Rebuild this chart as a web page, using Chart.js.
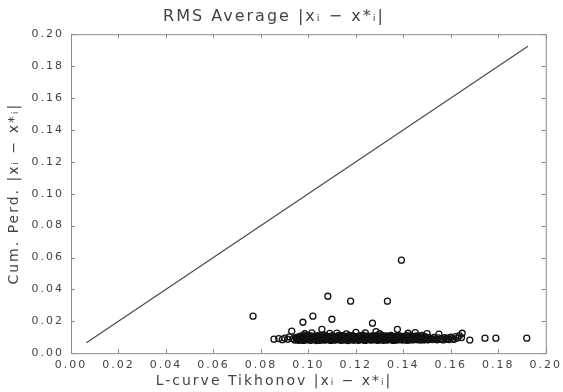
<!DOCTYPE html>
<html>
<head>
<meta charset="utf-8">
<script src="https://cdn.jsdelivr.net/npm/chart.js@4.4.1/dist/chart.umd.min.js"></script>
<style>
  html, body { margin: 0; padding: 0; background: #fff; }
  #wrap { width: 563px; height: 392px; }
</style>
</head>
<body>
<div id="wrap"><canvas id="chart"></canvas></div>
<script>
// axis ticks (both axes share the same range)
const tickValues = [0.00, 0.02, 0.04, 0.06, 0.08, 0.10, 0.12, 0.14, 0.16, 0.18, 0.20];

// y = x reference line, end points
const diagonal = [[0.0065, 0.0065], [0.1925, 0.1925]];

// isolated points away from the main band
const outliers = [
    [0.0767, 0.0232], [0.0855, 0.0088], [0.0930, 0.0138], [0.0977, 0.0194],
    [0.1019, 0.0232], [0.1057, 0.0150], [0.1082, 0.0357], [0.1099, 0.0213],
    [0.1178, 0.0326], [0.1270, 0.0188], [0.1333, 0.0326], [0.1375, 0.0150],
    [0.1392, 0.0583], [0.1648, 0.0125], [0.1680, 0.0082], [0.1744, 0.0094],
    [0.1790, 0.0094], [0.1920, 0.0094],
];

// left edge of the band
const bandLeft = [
    [0.0875, 0.0092], [0.0890, 0.0085], [0.0900, 0.0095], [0.0912, 0.0088],
    [0.0920, 0.0102], [0.0935, 0.0090], [0.0942, 0.0082], [0.0948, 0.0098],
];

// main band
const bandCore = [
    [0.0950, 0.0091], [0.0954, 0.0083], [0.0958, 0.0102], [0.0962, 0.0095], [0.0966, 0.0087],
    [0.0970, 0.0108], [0.0974, 0.0090], [0.0978, 0.0080], [0.0982, 0.0099], [0.0986, 0.0093],
    [0.0990, 0.0105], [0.0994, 0.0085], [0.0998, 0.0096], [0.1002, 0.0112], [0.1006, 0.0089],
    [0.1010, 0.0081], [0.1014, 0.0100], [0.1018, 0.0094], [0.1022, 0.0107], [0.1026, 0.0086],
    [0.1030, 0.0097], [0.1034, 0.0079], [0.1038, 0.0110], [0.1042, 0.0092], [0.1046, 0.0088],
    [0.1050, 0.0103], [0.1054, 0.0095], [0.1058, 0.0082], [0.1062, 0.0113], [0.1066, 0.0090],
    [0.1070, 0.0098], [0.1074, 0.0084], [0.1078, 0.0106], [0.1082, 0.0093], [0.1086, 0.0087],
    [0.1090, 0.0101], [0.1094, 0.0080], [0.1098, 0.0096], [0.1102, 0.0109], [0.1106, 0.0089],
    [0.1110, 0.0099], [0.1114, 0.0083], [0.1118, 0.0104], [0.1122, 0.0092], [0.1126, 0.0086],
    [0.1130, 0.0111], [0.1134, 0.0094], [0.1138, 0.0081], [0.1142, 0.0100], [0.1146, 0.0090],
    [0.1150, 0.0107], [0.1154, 0.0085], [0.1158, 0.0097], [0.1162, 0.0093], [0.1166, 0.0079],
    [0.1170, 0.0105], [0.1174, 0.0091], [0.1178, 0.0099], [0.1182, 0.0087], [0.1186, 0.0110],
    [0.1190, 0.0095], [0.1194, 0.0082], [0.1198, 0.0102], [0.1202, 0.0089], [0.1206, 0.0096],
    [0.1210, 0.0084], [0.1214, 0.0108], [0.1218, 0.0092], [0.1222, 0.0100], [0.1226, 0.0086],
    [0.1230, 0.0113], [0.1234, 0.0090], [0.1238, 0.0080], [0.1242, 0.0098], [0.1246, 0.0094],
    [0.1250, 0.0104], [0.1254, 0.0087], [0.1258, 0.0096], [0.1262, 0.0083], [0.1266, 0.0109],
    [0.1270, 0.0091], [0.1274, 0.0099], [0.1278, 0.0085], [0.1282, 0.0102], [0.1286, 0.0093],
    [0.1290, 0.0081], [0.1294, 0.0106], [0.1298, 0.0089], [0.1302, 0.0097], [0.1306, 0.0084],
    [0.1310, 0.0111], [0.1314, 0.0092], [0.1318, 0.0088], [0.1322, 0.0100], [0.1326, 0.0095],
    [0.1330, 0.0082], [0.1334, 0.0107], [0.1338, 0.0090], [0.1342, 0.0098], [0.1346, 0.0086],
    [0.1350, 0.0103], [0.1354, 0.0093], [0.1358, 0.0080], [0.1362, 0.0101], [0.1366, 0.0089],
    [0.1370, 0.0096], [0.1374, 0.0108], [0.1378, 0.0084], [0.1382, 0.0094], [0.1386, 0.0099],
    [0.1390, 0.0087], [0.1394, 0.0105], [0.1398, 0.0091], [0.1402, 0.0083], [0.1406, 0.0100],
    [0.1410, 0.0093], [0.1414, 0.0110], [0.1418, 0.0088], [0.1422, 0.0097], [0.1426, 0.0082],
    [0.1430, 0.0104], [0.1434, 0.0092], [0.1438, 0.0086], [0.1442, 0.0099], [0.1446, 0.0094],
    [0.1450, 0.0107], [0.1454, 0.0085], [0.1458, 0.0096], [0.1462, 0.0090], [0.1466, 0.0102],
    [0.1470, 0.0083], [0.1474, 0.0095], [0.1478, 0.0111], [0.1482, 0.0089], [0.1486, 0.0098],
    [0.1490, 0.0086], [0.1494, 0.0101], [0.1498, 0.0092], [0.1502, 0.0084], [0.1506, 0.0097],
    [0.1510, 0.0090],
];

// second, interleaved layer of the band
const bandFill = [
    [0.0952, 0.0098], [0.0956, 0.0089], [0.0960, 0.0081], [0.0964, 0.0104], [0.0968, 0.0094],
    [0.0972, 0.0085], [0.0976, 0.0100], [0.0980, 0.0091], [0.0984, 0.0110], [0.0988, 0.0083],
    [0.0992, 0.0097], [0.0996, 0.0088], [0.1000, 0.0103], [0.1004, 0.0094], [0.1008, 0.0082],
    [0.1012, 0.0107], [0.1016, 0.0090], [0.1020, 0.0086], [0.1024, 0.0099], [0.1028, 0.0093],
    [0.1032, 0.0084], [0.1036, 0.0102], [0.1040, 0.0096], [0.1044, 0.0080], [0.1048, 0.0109],
    [0.1052, 0.0089], [0.1056, 0.0099], [0.1060, 0.0087], [0.1064, 0.0101], [0.1068, 0.0083],
    [0.1072, 0.0111], [0.1076, 0.0092], [0.1080, 0.0086], [0.1084, 0.0104], [0.1088, 0.0095],
    [0.1092, 0.0084], [0.1096, 0.0107], [0.1100, 0.0090], [0.1104, 0.0098], [0.1108, 0.0082],
    [0.1112, 0.0103], [0.1116, 0.0093], [0.1120, 0.0087], [0.1124, 0.0108], [0.1128, 0.0091],
    [0.1132, 0.0084], [0.1136, 0.0101], [0.1140, 0.0096], [0.1144, 0.0110], [0.1148, 0.0083],
    [0.1152, 0.0094], [0.1156, 0.0102], [0.1160, 0.0088], [0.1164, 0.0099], [0.1168, 0.0085],
    [0.1172, 0.0112], [0.1176, 0.0084], [0.1180, 0.0093], [0.1184, 0.0101], [0.1188, 0.0082],
    [0.1192, 0.0106], [0.1196, 0.0091], [0.1200, 0.0086], [0.1204, 0.0104], [0.1208, 0.0093],
    [0.1212, 0.0081], [0.1216, 0.0099], [0.1220, 0.0087], [0.1224, 0.0110], [0.1228, 0.0094],
    [0.1232, 0.0084], [0.1236, 0.0103], [0.1240, 0.0090], [0.1244, 0.0082], [0.1248, 0.0107],
    [0.1252, 0.0095], [0.1256, 0.0086], [0.1260, 0.0100], [0.1264, 0.0092], [0.1268, 0.0083],
    [0.1272, 0.0105], [0.1276, 0.0089], [0.1280, 0.0097], [0.1284, 0.0110], [0.1288, 0.0086],
    [0.1292, 0.0094], [0.1296, 0.0083], [0.1300, 0.0101], [0.1304, 0.0092], [0.1308, 0.0087],
    [0.1312, 0.0104], [0.1316, 0.0081], [0.1320, 0.0096], [0.1324, 0.0109], [0.1328, 0.0089],
    [0.1332, 0.0097], [0.1336, 0.0085], [0.1340, 0.0102], [0.1344, 0.0093], [0.1348, 0.0111],
    [0.1352, 0.0084], [0.1356, 0.0098], [0.1360, 0.0090], [0.1364, 0.0106], [0.1368, 0.0082],
    [0.1372, 0.0093], [0.1376, 0.0100], [0.1380, 0.0088], [0.1384, 0.0109], [0.1388, 0.0095],
    [0.1392, 0.0083], [0.1396, 0.0099], [0.1400, 0.0090], [0.1404, 0.0106], [0.1408, 0.0086],
    [0.1412, 0.0096], [0.1416, 0.0081], [0.1420, 0.0102], [0.1424, 0.0091], [0.1428, 0.0109],
    [0.1432, 0.0087], [0.1436, 0.0097], [0.1440, 0.0084], [0.1444, 0.0104], [0.1448, 0.0090],
    [0.1452, 0.0099], [0.1456, 0.0088], [0.1460, 0.0108], [0.1464, 0.0093], [0.1468, 0.0085],
    [0.1472, 0.0101], [0.1476, 0.0091], [0.1480, 0.0096], [0.1484, 0.0083], [0.1488, 0.0105],
    [0.1492, 0.0094], [0.1496, 0.0087], [0.1500, 0.0099], [0.1504, 0.0091], [0.1508, 0.0086],
];

// points sitting just above the band
const bandUpper = [
    [0.0985, 0.0122], [0.1015, 0.0128], [0.1090, 0.0124], [0.1120, 0.0126], [0.1160, 0.0121],
    [0.1200, 0.0130], [0.1240, 0.0127], [0.1285, 0.0135], [0.1300, 0.0122], [0.1420, 0.0125],
    [0.1450, 0.0129], [0.1500, 0.0123], [0.1550, 0.0120],
];

// thinning right edge of the band
const bandRight = [
    [0.1516, 0.0093], [0.1523, 0.0086], [0.1529, 0.0099], [0.1535, 0.0090], [0.1542, 0.0084],
    [0.1548, 0.0096], [0.1555, 0.0088], [0.1561, 0.0092], [0.1568, 0.0083], [0.1574, 0.0097],
    [0.1580, 0.0089], [0.1587, 0.0094], [0.1593, 0.0086], [0.1600, 0.0100], [0.1607, 0.0091],
    [0.1614, 0.0087], [0.1620, 0.0104], [0.1628, 0.0095], [0.1636, 0.0110], [0.1645, 0.0098],
];

const toXY = (pairs) => pairs.map(([x, y]) => ({ x, y }));
const scatter = [].concat(bandLeft, bandCore, bandFill, bandUpper, bandRight, outliers);

const INK = '#444444';
const FRAME = '#8a8a8a';
const FONT = "'DejaVu Sans', sans-serif";

/* wide-tracked lettering for all chart text */
const tracking = {
    id: 'tracking',
    beforeDraw(chart) {
        chart.ctx.letterSpacing = '2px';
    },
};

/* box around the plot with inward tick marks on every side */
const frame = {
    id: 'frame',
    afterDraw(chart) {
        const { ctx, chartArea: a, scales } = chart;
        const len = 4;
        ctx.save();
        ctx.strokeStyle = FRAME;
        ctx.lineWidth = 1;
        ctx.strokeRect(a.left + 0.5, a.top + 0.5, a.right - a.left, a.bottom - a.top);
        ctx.beginPath();
        tickValues.forEach((v) => {
            const px = Math.round(scales.x.getPixelForValue(v)) + 0.5;
            ctx.moveTo(px, a.bottom);
            ctx.lineTo(px, a.bottom - len);
            ctx.moveTo(px, a.top);
            ctx.lineTo(px, a.top + len);
            const py = Math.round(scales.y.getPixelForValue(v)) + 0.5;
            ctx.moveTo(a.left, py);
            ctx.lineTo(a.left + len, py);
            ctx.moveTo(a.right, py);
            ctx.lineTo(a.right - len, py);
        });
        ctx.stroke();
        ctx.restore();
    },
};

const axisCommon = {
    type: 'linear',
    min: 0,
    max: 0.2,
    grid: { display: false, drawTicks: false },
    border: { display: false },
};

new Chart(document.getElementById('chart'), {
    type: 'scatter',
    data: {
        datasets: [
            {
                type: 'line',
                data: toXY(diagonal),
                borderColor: '#4a4a4a',
                borderWidth: 1.2,
                pointRadius: 0,
                fill: false,
            },
            {
                data: toXY(scatter),
                pointStyle: 'circle',
                pointRadius: 3,
                borderWidth: 1.3,
                borderColor: '#111111',
                backgroundColor: 'rgba(0,0,0,0)',
            },
        ],
    },
    options: {
        responsive: true,
        maintainAspectRatio: false,
        animation: false,
        layout: { padding: { left: 0, right: 15, top: 0, bottom: 0 } },
        plugins: {
            legend: { display: false },
            tooltip: { enabled: false },
            title: {
                display: true,
                text: 'RMS Average |xᵢ − x*ᵢ|',
                color: INK,
                font: { family: FONT, size: 16, weight: 'normal' },
                padding: { top: 7, bottom: 8 },
            },
            subtitle: {
                display: true,
                position: 'bottom',
                text: 'L-curve Tikhonov |xᵢ − x*ᵢ|',
                color: INK,
                font: { family: FONT, size: 14, weight: 'normal' },
                padding: { top: 2, bottom: 2 },
            },
        },
        scales: {
            x: {
                ...axisCommon,
                position: 'bottom',
                afterFit(scale) { scale.height = 18; },
                afterBuildTicks(scale) { scale.ticks = tickValues.map((value) => ({ value })); },
                ticks: {
                    color: INK,
                    padding: 5,
                    maxRotation: 0,
                    font: { family: FONT, size: 11 },
                    callback: (v) => Number(v).toFixed(2),
                },
            },
            y: {
                ...axisCommon,
                position: 'left',
                afterFit(scale) { scale.width = 71; },
                afterBuildTicks(scale) { scale.ticks = tickValues.map((value) => ({ value })); },
                ticks: {
                    color: INK,
                    padding: 7,
                    font: { family: FONT, size: 11 },
                    callback: (v) => Number(v).toFixed(2),
                },
                title: {
                    display: true,
                    text: 'Cum. Perd. |xᵢ − x*ᵢ|',
                    color: INK,
                    font: { family: FONT, size: 14 },
                    padding: { top: 6, bottom: 0 },
                },
            },
        },
    },
    plugins: [tracking, frame],
});
</script>
</body>
</html>
